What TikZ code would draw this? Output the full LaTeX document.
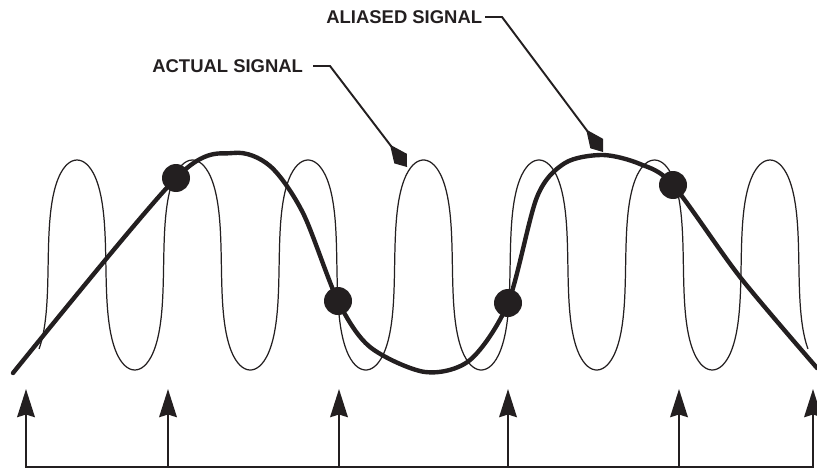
\documentclass[tikz,border=0pt]{standalone}
\usepackage{fontspec}
\setmainfont{Liberation Sans}
\usetikzlibrary{arrows.meta}
\definecolor{ink}{HTML}{231F20}
\begin{document}
\begin{tikzpicture}[x=0.02cm, y=-0.02cm, ink,
  sigtext/.style={font=\bfseries\fontsize{10.5}{12}\selectfont, inner sep=0pt, text=ink},
  dot/.style={circle, fill=ink, inner sep=0pt, minimum size=0.56cm},
  leader/.style={line width=1.1pt, -{Kite[length=16pt,width=9pt,inset=10pt]}},
  sample/.style={line width=1.4pt, -{Stealth[length=16pt,width=10pt,inset=1.5pt]}}]
  \useasboundingbox (0,0) rectangle (817,470);
  % actual signal
  \draw[line width=0.7pt] plot[domain=-143:2303, samples=600, smooth]
    ({77+0.32083*(\x+25.783*sin(2*\x))}, {265-105*cos(\x)});
  % aliased signal
  \draw[line width=2.5pt, line cap=round] plot[smooth, tension=0.5] coordinates {
    (13,373) (176,178) (233,153) (270,166) (303,213) (338,301)
    (370,347) (425,372) (470,360) (508,303) (537,197) (565,163) (603,155)
    (640,164) (673,185) (740,277) (817,368)};
  % samples
  \foreach \n/\x/\y in {1/176/178, 2/338/301, 3/508/303, 4/673/185}
    \node[dot] (s\n) at (\x,\y) {};
  % sampling instants
  \foreach \n/\x in {0/26, 1/168, 2/339, 3/508, 4/679, 5/813} {
    \coordinate (b\n) at (\x,467);
    \coordinate (t\n) at (\x,389);
    \draw[sample] (b\n) -- (t\n);
  }
  \draw[line width=1.4pt] ([xshift=-0.7pt]b0) -- ([xshift=0.7pt]b5);
  % labels
  \node[sigtext, anchor=west] (actual) at (152,66) {ACTUAL SIGNAL};
  \node[sigtext, anchor=west] (aliased) at (326,17) {ALIASED SIGNAL};
  \coordinate (actualknee) at (330,66);
  \coordinate (actualtip) at (407,167);
  \coordinate (aliasedknee) at (502,17);
  \coordinate (aliasedtip) at (603,152);
  \draw[leader] ([xshift=5.5pt]actual.east) -- (actualknee) -- (actualtip);
  \draw[leader] ([xshift=1.5pt]aliased.east) -- (aliasedknee) -- (aliasedtip);
\end{tikzpicture}
\end{document}
